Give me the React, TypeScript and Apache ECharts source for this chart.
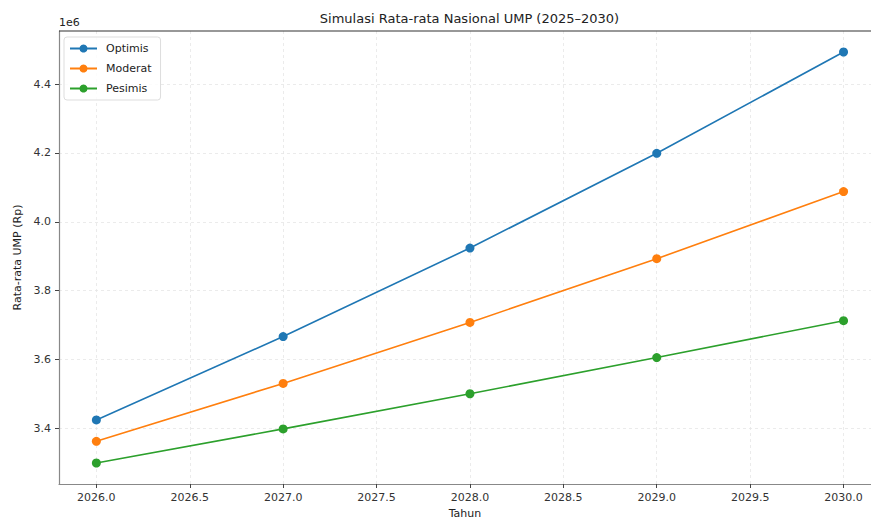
import React, { useEffect, useRef } from "react";
import * as echarts from "echarts";

const years = [2026, 2027, 2028, 2029, 2030];
const optimis = [3425000, 3667000, 3924000, 4199000, 4493000];
const moderat = [3363000, 3531000, 3708000, 3893000, 4088000];
const pesimis = [3300000, 3399000, 3501000, 3606000, 3713000];
const xTicks = [2026.0, 2026.5, 2027.0, 2027.5, 2028.0, 2028.5, 2029.0, 2029.5, 2030.0];
const yTicks = [3400000, 3600000, 3800000, 4000000, 4200000, 4400000];

const FONT = "DejaVu Sans";
const colors = ["#1f77b4", "#ff7f0e", "#2ca02c"];

export default function App() {
  const ref = useRef<HTMLDivElement>(null);
  useEffect(() => {
    const chart = echarts.init(ref.current!, null, { renderer: "svg" });
    const mk = (name: string, data: number[], color: string) => ({
      name,
      type: "line",
      data: years.map((y, i) => [y, data[i]]),
      symbol: "circle",
      symbolSize: 9,
      color,
      lineStyle: { color, width: 1.6 },
      itemStyle: { color },
      z: 3,
    });
    chart.setOption({
      animation: false,
      textStyle: { fontFamily: FONT },
      grid: { left: 59, right: 0, top: 31, bottom: 36, containLabel: false, outerBoundsMode: "none" },
      graphic: [
        {
          type: "text",
          x: 469.5,
          y: 18,
          style: {
            text: "Simulasi Rata-rata Nasional UMP (2025–2030)",
            font: `13px '${FONT}'`,
            fill: "#222",
            textAlign: "center",
            textVerticalAlign: "middle",
          },
        },
        {
          type: "text",
          x: 59,
          y: 22,
          style: {
            text: "1e6",
            font: `11px '${FONT}'`,
            fill: "#222",
            textAlign: "left",
            textVerticalAlign: "middle",
          },
        },
        {
          type: "line",
          shape: { x1: 59, y1: 31, x2: 871, y2: 31 },
          style: { stroke: "#333", lineWidth: 1.2 },
          z: 10,
        },
      ],
      legend: {
        orient: "vertical",
        left: 64,
        top: 37,
        padding: [6, 9, 6, 5],
        itemWidth: 27,
        itemHeight: 10,
        itemGap: 9,
        backgroundColor: "rgba(255,255,255,0.85)",
        borderColor: "#ddd",
        borderWidth: 1,
        borderRadius: 3,
        textStyle: { fontFamily: FONT, fontSize: 11, color: "#222", padding: [0, 0, 0, 4] },
        data: ["Optimis", "Moderat", "Pesimis"],
      },
      xAxis: {
        type: "value",
        min: 2025.8,
        max: 2030.147,
        splitNumber: 9,
        name: "Tahun",
        nameLocation: "middle",
        nameGap: 23,
        nameTextStyle: { fontFamily: FONT, fontSize: 11, color: "#222" },
        axisLine: { show: true, onZero: false, lineStyle: { color: "#888", width: 1.2 } },
        axisTick: { show: true, length: 4, customValues: xTicks, lineStyle: { color: "#444" } },
        axisLabel: {
          customValues: xTicks,
          margin: 8,
          fontFamily: FONT,
          fontSize: 11,
          color: "#333",
          formatter: (v: number) => v.toFixed(1),
        },
        splitLine: { show: true, lineStyle: { color: "#e6e6e6", type: [3, 3], width: 0.8 } },
      },
      yAxis: {
        type: "value",
        min: 3239000,
        max: 4554000,
        splitNumber: 7,
        name: "Rata-rata UMP (Rp)",
        nameLocation: "middle",
        nameGap: 36,
        nameTextStyle: { fontFamily: FONT, fontSize: 11, color: "#222" },
        axisLine: { show: true, onZero: false, lineStyle: { color: "#888", width: 1.2 } },
        axisTick: { show: true, length: 4, customValues: yTicks, lineStyle: { color: "#444" } },
        axisLabel: {
          customValues: yTicks,
          margin: 8,
          fontFamily: FONT,
          fontSize: 11,
          color: "#333",
          formatter: (v: number) => (v / 1e6).toFixed(1),
        },
        splitLine: { show: true, lineStyle: { color: "#e6e6e6", type: [3, 3], width: 0.8 } },
      },
      series: [
        mk("Optimis", optimis, colors[0]),
        mk("Moderat", moderat, colors[1]),
        mk("Pesimis", pesimis, colors[2]),
      ],
    });
    return () => chart.dispose();
  }, []);
  return <div ref={ref} style={{ width: 871, height: 520, position: "absolute", left: 0, top: 0, background: "#fff" }} />;
}
